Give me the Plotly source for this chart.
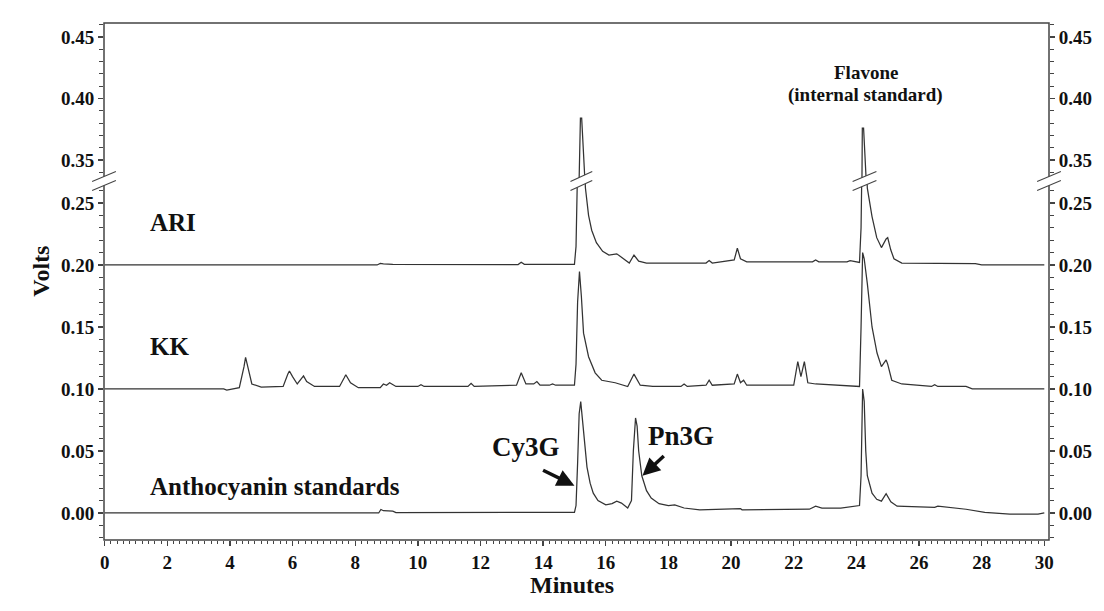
import plotly.graph_objects as go

# ---------------- data (minutes, volts) ----------------
ari_t = [0.0, 8.70, 8.80, 8.90, 9.20, 13.20, 13.30, 13.40, 15.00, 15.05, 15.10, 15.15, 15.19, 15.23,
         15.27, 15.30, 15.35, 15.45, 15.55, 15.70, 15.90, 16.10, 16.35, 16.60, 16.75, 16.90, 17.05,
         17.30, 17.80, 18.50, 19.20, 19.30, 19.40, 20.10, 20.20, 20.30, 20.50, 22.60, 22.70, 22.80,
         23.70, 23.80, 24.10, 24.15, 24.19, 24.23, 24.28, 24.35, 24.50, 24.65, 24.80, 24.95, 25.00,
         25.10, 25.20, 25.45, 27.80, 28.00, 30.0]
ari_v = [0.200, 0.200, 0.2012, 0.2008, 0.2005, 0.2003, 0.2022, 0.2005, 0.2005, 0.215, 0.280, 0.360, 0.384, 0.384,
         0.340, 0.290, 0.262, 0.240, 0.228, 0.218, 0.211, 0.208, 0.209, 0.204, 0.2015, 0.208, 0.203,
         0.2015, 0.2015, 0.2012, 0.2015, 0.2035, 0.2015, 0.204, 0.2135, 0.205, 0.2025, 0.2025, 0.204, 0.2025,
         0.2025, 0.2035, 0.202, 0.230, 0.376, 0.376, 0.300, 0.262, 0.239, 0.222, 0.214, 0.221, 0.222,
         0.212, 0.205, 0.2015, 0.2010, 0.2000, 0.2000]

kk_t = [0.0, 3.80, 3.90, 4.30, 4.45, 4.50, 4.57, 4.70, 5.00, 5.70, 5.85, 5.90, 6.00, 6.15, 6.35, 6.45,
        6.70, 7.50, 7.65, 7.70, 7.85, 8.10, 8.80, 8.90, 9.00, 9.10, 9.30, 10.00, 10.10, 10.20, 11.60,
        11.70, 11.80, 13.15, 13.30, 13.45, 13.70, 13.80, 13.90, 14.20, 14.30, 14.40, 15.00, 15.05, 15.10,
        15.16, 15.22, 15.29, 15.45, 15.66, 15.87, 16.30, 16.70, 16.90, 17.10, 17.50, 18.40, 18.50, 18.60,
        19.20, 19.30, 19.40, 20.10, 20.20, 20.30, 20.40, 20.50, 22.00, 22.13, 22.23, 22.34, 22.45, 22.70,
        24.10, 24.15, 24.20, 24.25, 24.35, 24.50, 24.66, 24.80, 24.95, 25.00, 25.13, 25.45, 26.40, 26.50,
        26.60, 27.50, 27.70, 30.0]
kk_v = [0.100, 0.100, 0.099, 0.101, 0.118, 0.1255, 0.118, 0.104, 0.1015, 0.102, 0.112, 0.1145, 0.110, 0.104, 0.1105, 0.106,
        0.102, 0.102, 0.109, 0.1115, 0.105, 0.101, 0.101, 0.104, 0.103, 0.105, 0.102, 0.102, 0.1035, 0.102, 0.102,
        0.1045, 0.102, 0.103, 0.113, 0.104, 0.104, 0.106, 0.103, 0.103, 0.104, 0.103, 0.103, 0.120, 0.170,
        0.1946, 0.175, 0.145, 0.126, 0.113, 0.107, 0.105, 0.102, 0.112, 0.103, 0.102, 0.102, 0.104, 0.102,
        0.103, 0.107, 0.103, 0.104, 0.112, 0.105, 0.107, 0.103, 0.103, 0.122, 0.110, 0.122, 0.105, 0.104,
        0.102, 0.150, 0.210, 0.205, 0.185, 0.150, 0.129, 0.118, 0.1234, 0.120, 0.107, 0.104, 0.102, 0.1035,
        0.102, 0.102, 0.100, 0.100]

std_t = [0.0, 8.75, 8.82, 8.90, 9.20, 9.30, 15.00, 15.05, 15.10, 15.15, 15.20, 15.25, 15.30, 15.40, 15.50,
         15.60, 15.75, 16.00, 16.20, 16.35, 16.50, 16.70, 16.82, 16.88, 16.95, 17.00, 17.05, 17.15, 17.30,
         17.45, 17.70, 18.00, 18.20, 18.50, 19.00, 20.30, 20.35, 22.50, 22.70, 22.90, 23.50, 23.90, 24.10,
         24.15, 24.20, 24.25, 24.30, 24.35, 24.50, 24.65, 24.80, 24.95, 25.10, 25.30, 26.50, 26.60, 27.50,
         28.10, 28.90, 29.80, 30.0]
std_v = [0.000, 0.000, 0.0028, 0.0018, 0.0015, 0.0003, 0.0005, 0.006, 0.040, 0.080, 0.0898, 0.078, 0.062, 0.037, 0.024,
         0.016, 0.010, 0.0065, 0.0075, 0.0095, 0.008, 0.004, 0.010, 0.050, 0.0766, 0.070, 0.050, 0.030, 0.018,
         0.012, 0.0075, 0.006, 0.0065, 0.004, 0.0025, 0.0035, 0.0025, 0.003, 0.0055, 0.004, 0.004, 0.0055, 0.006,
         0.030, 0.100, 0.090, 0.050, 0.030, 0.016, 0.011, 0.0095, 0.0155, 0.009, 0.0055, 0.0045, 0.0055, 0.003,
         0.0005, -0.001, -0.001, 0.000]

series = [("ARI", ari_t, ari_v), ("KK", kk_t, kk_v), ("Anthocyanin standards", std_t, std_v)]

low_ticks = [0.00, 0.05, 0.10, 0.15, 0.20, 0.25]
up_ticks = [0.35, 0.40, 0.45]
x_ticks = list(range(0, 31, 2))

# ---------------- layout geometry ----------------
W, H = 1104, 611
ML, MR, MT, MB = 104, 45, 23, 71
PW, PH = W - ML - MR, H - MT - MB
X_RANGE = [-0.02, 30.15]
LOW_RANGE = [-0.0218, 0.2677]
UP_RANGE = [0.3329, 0.4614]
SPLIT = 0.6944

LINE = "#333333"
FONT = "Liberation Serif"

fig = go.Figure()
for name, t, v in series:
    for ya in ("y", "y2"):
        fig.add_trace(go.Scatter(x=t, y=v, xaxis="x", yaxis=ya, mode="lines", name=name,
                                 line=dict(color=LINE, width=1.25), showlegend=False, hoverinfo="skip"))
# right-hand mirror axes
for ya in ("y3", "y4"):
    fig.add_trace(go.Scatter(x=[None], y=[None], xaxis="x", yaxis=ya, mode="lines", showlegend=False, hoverinfo="skip"))

tickfont = dict(family=FONT, size=19, color="#111", weight="bold")
yax_common = dict(ticks="outside", ticklen=5, tickwidth=1.3, tickcolor="#444", showgrid=False, zeroline=False,
                  showline=False, tickformat=".2f", tickmode="linear", tick0=0, dtick=0.05, tickfont=tickfont,
                  minor=dict(ticks="outside", ticklen=4, tickwidth=1, tickcolor="#444", dtick=0.01, tick0=0, showgrid=False),
                  fixedrange=True)

fig.update_layout(
    width=W, height=H, margin=dict(l=ML, r=MR, t=MT, b=MB),
    paper_bgcolor="white", plot_bgcolor="white", showlegend=False,
    xaxis=dict(domain=[0, 1], range=X_RANGE, anchor="y", ticks="outside", ticklen=5, tickwidth=1.3, tickcolor="#444",
               tickmode="array", tickvals=x_ticks, ticktext=[str(v) for v in x_ticks], tickfont=tickfont,
               minor=dict(ticks="outside", ticklen=3, tickwidth=1, tickcolor="#444", dtick=0.2, tick0=0, showgrid=False),
               showgrid=False, zeroline=False, showline=False, fixedrange=True),
    yaxis=dict(domain=[0, SPLIT], range=LOW_RANGE, anchor="x", side="left", **yax_common),
    yaxis2=dict(domain=[SPLIT, 1], range=UP_RANGE, anchor="x", side="left", **yax_common),
    yaxis3=dict(domain=[0, SPLIT], range=LOW_RANGE, anchor="x", side="right", overlaying="y", **yax_common),
    yaxis4=dict(domain=[SPLIT, 1], range=UP_RANGE, anchor="x", side="right", overlaying="y2", **yax_common),
)

def px2paper(px, py):
    return (px - ML) / PW, (H - MB - py) / PH

def x2px(t):
    return ML + (t - X_RANGE[0]) / (X_RANGE[1] - X_RANGE[0]) * PW

shapes = [dict(type="rect", xref="paper", yref="paper", x0=0, y0=0, x1=1, y1=1,
               line=dict(color="#444", width=1.5), layer="above")]

def break_mark(xc, yc, hw=12):
    pts_u = [(xc - hw, yc + 0.6), (xc + hw, yc - 9.6)]
    pts_l = [(xc - hw, yc + 9.6), (xc + hw, yc - 0.6)]
    a = px2paper(*pts_u[0]); b = px2paper(*pts_u[1]); c = px2paper(*pts_l[1]); d = px2paper(*pts_l[0])
    path = f"M{a[0]},{a[1]} L{b[0]},{b[1]} L{c[0]},{c[1]} L{d[0]},{d[1]} Z"
    out = [dict(type="path", xref="paper", yref="paper", path=path, fillcolor="white",
                line=dict(width=0), layer="above")]
    for p, q in (pts_u, pts_l):
        p1 = px2paper(*p); q1 = px2paper(*q)
        out.append(dict(type="line", xref="paper", yref="paper", x0=p1[0], y0=p1[1], x1=q1[0], y1=q1[1],
                        line=dict(color="#444", width=1.1), layer="above"))
    return out

YB = H - MB - SPLIT * PH
shapes += break_mark(ML, YB)
shapes += break_mark(W - MR, YB)
shapes += break_mark(x2px(15.22), YB, hw=11)
shapes += break_mark(x2px(24.26), YB, hw=12)
fig.update_layout(shapes=shapes)

lab = dict(family=FONT, size=25, color="#111", weight="bold")
lab2 = dict(family=FONT, size=27, color="#111", weight="bold")
small = dict(family=FONT, size=19, color="#111", weight="bold")
axt = dict(family=FONT, size=24, color="#111", weight="bold")
ann = [
    dict(x=1.4, y=0.234, xref="x", yref="y", text="ARI", showarrow=False, xanchor="left", font=lab),
    dict(x=1.4, y=0.134, xref="x", yref="y", text="KK", showarrow=False, xanchor="left", font=lab),
    dict(x=1.4, y=0.021, xref="x", yref="y", text="Anthocyanin standards", showarrow=False, xanchor="left", font=lab),
    dict(x=13.45, y=0.053, xref="x", yref="y", text="Cy3G", showarrow=False, font=lab2),
    dict(x=18.4, y=0.062, xref="x", yref="y", text="Pn3G", showarrow=False, font=lab2),
    dict(x=15.0, y=0.022, ax=13.95, ay=0.035, xref="x", yref="y", axref="x", ayref="y", text="",
         showarrow=True, arrowhead=2, arrowsize=1.0, arrowwidth=3.5, arrowcolor="#111"),
    dict(x=17.17, y=0.030, ax=17.9, ay=0.047, xref="x", yref="y", axref="x", ayref="y", text="",
         showarrow=True, arrowhead=2, arrowsize=1.0, arrowwidth=3.5, arrowcolor="#111"),
    dict(x=24.3, y=0.421, xref="x", yref="y2", text="Flavone", showarrow=False, font=small),
    dict(x=24.3, y=0.403, xref="x", yref="y2", text="(internal standard)", showarrow=False, font=small),
    dict(x=-0.082, y=0.52, xref="paper", yref="paper", text="Volts", showarrow=False, textangle=-90, font=axt),
    dict(x=0.495, y=-0.117, xref="paper", yref="paper", text="Minutes", showarrow=False, font=axt),
]
fig.update_layout(annotations=ann)

fig.write_html("out.html", config={"displayModeBar": False, "staticPlot": True},
               post_script="document.documentElement.style.margin='0';document.body.style.margin='0';"
                           "document.body.style.overflow='hidden';document.documentElement.style.overflow='hidden';")
